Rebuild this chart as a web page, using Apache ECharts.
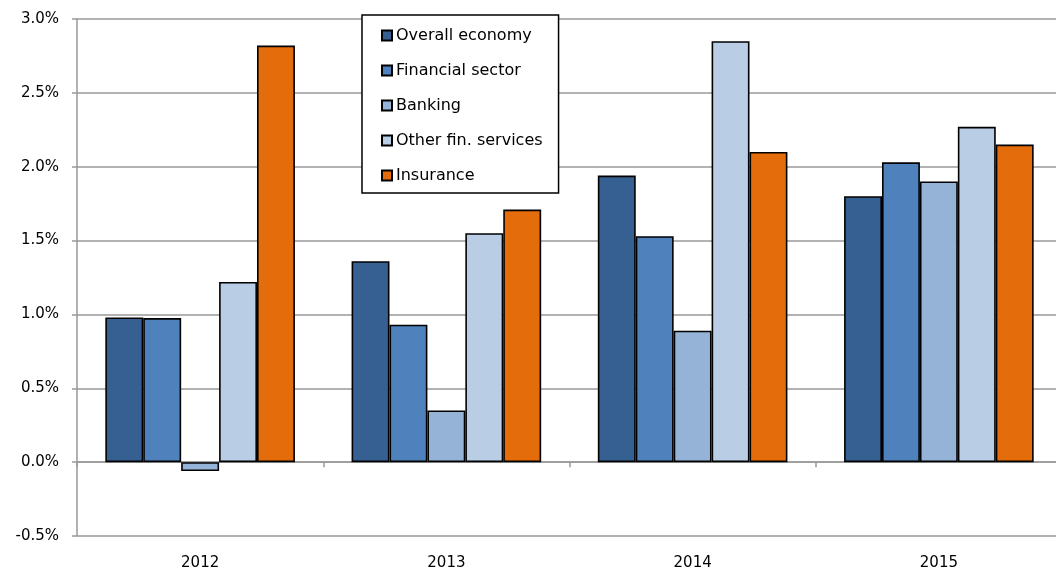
<!DOCTYPE html>
<html>
<head>
<meta charset="utf-8">
<script src="https://cdn.jsdelivr.net/npm/echarts@6/dist/echarts.min.js"></script>
<style>
  html, body { margin: 0; padding: 0; background: #fff; overflow: hidden; }
  #chart { width: 1062px; height: 572px; }
</style>
</head>
<body>
<div id="chart"></div>
<script>
var years = ["2012", "2013", "2014", "2015"];
var overallEconomy = [0.98, 1.36, 1.94, 1.80];
var financialSector = [0.975, 0.93, 1.53, 2.03];
var banking = [-0.06, 0.35, 0.89, 1.90];
var otherFinServices = [1.22, 1.55, 2.85, 2.27];
var insurance = [2.82, 1.71, 2.10, 2.15];

var seriesNames = ["Overall economy", "Financial sector", "Banking", "Other fin. services", "Insurance"];
var seriesData = [overallEconomy, financialSector, banking, otherFinServices, insurance];
var colors = ["#376092", "#4f81bd", "#95b3d7", "#b9cde5", "#e46c0a"];

var fontFamily = "DejaVu Sans";

var series = seriesNames.map(function (name, i) {
  return {
    name: name,
    type: "bar",
    xAxisIndex: 0,
    barGap: "0%",
    barCategoryGap: "23%",
    data: seriesData[i],
    itemStyle: {
      color: colors[i],
      borderColor: "#000",
      borderWidth: 1.6,
    },
  };
});

// the plot runs a few px past the right edge of the window, so the div is wider
var chart = echarts.init(document.getElementById("chart"));
chart.setOption({
  animation: false,
  backgroundColor: "#fff",
  grid: {
    left: 77,
    right: 0,
    top: 19,
    bottom: 36,
    containLabel: false,
  },
  legend: {
    orient: "vertical",
    left: 362,
    top: 15,
    data: seriesNames,
    icon: "rect",
    itemWidth: 10,
    itemHeight: 10,
    itemGap: 16,
    padding: [11, 16, 8, 19],
    backgroundColor: "#fff",
    borderColor: "#000",
    borderWidth: 1.5,
    borderRadius: 0,
    textStyle: {
      fontFamily: fontFamily,
      fontSize: 16,
      color: "#000",
      lineHeight: 19,
      padding: [0, 0, 0, -1],
    },
  },
  xAxis: [
    {
      type: "category",
      data: years,
      axisLine: { onZero: true, lineStyle: { color: "#999", width: 1.5 } },
      axisTick: { show: true, length: 5, lineStyle: { color: "#999", width: 1.5 } },
      axisLabel: { show: false },
      splitLine: { show: false },
    },
    {
      type: "category",
      data: years,
      position: "bottom",
      axisLine: { show: false, onZero: false },
      axisTick: { show: false },
      axisLabel: {
        margin: 20,
        fontFamily: fontFamily,
        fontSize: 15,
        color: "#000",
      },
    },
  ],
  yAxis: {
    type: "value",
    min: -0.5,
    max: 3,
    interval: 0.5,
    axisLine: { show: true, lineStyle: { color: "#999", width: 1.5 } },
    axisTick: { show: true, length: 5, lineStyle: { color: "#999", width: 1.5 } },
    splitLine: { lineStyle: { color: "#999", width: 1.5 } },
    axisLabel: {
      margin: 18,
      fontFamily: fontFamily,
      fontSize: 15,
      color: "#000",
      formatter: function (v) {
        return v.toFixed(1) + "%";
      },
    },
  },
  series: series,
});
</script>
</body>
</html>
